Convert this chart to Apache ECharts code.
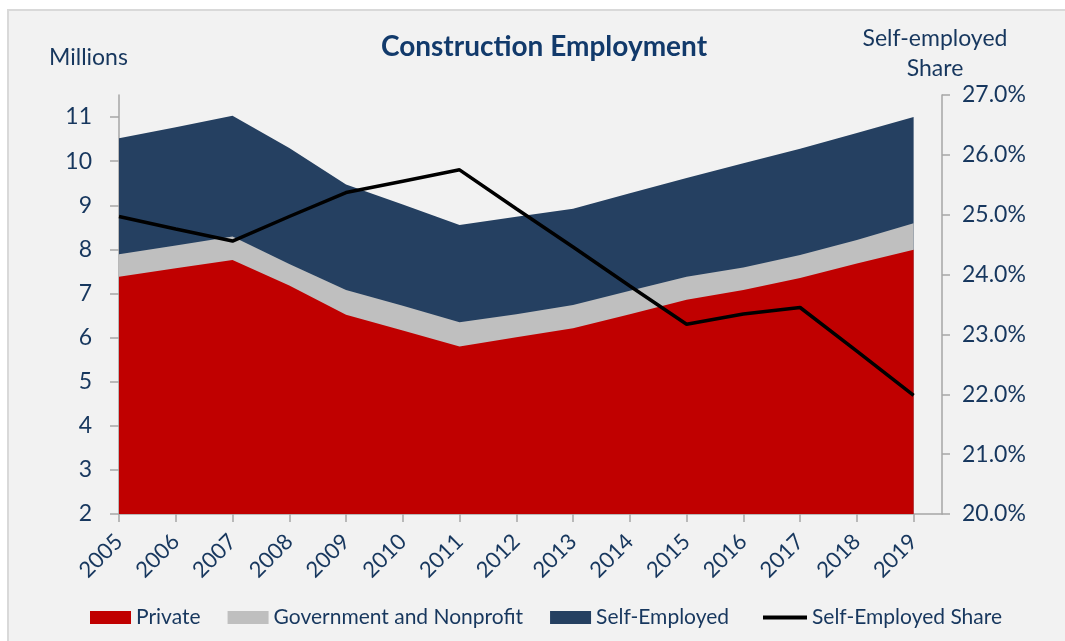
<!DOCTYPE html>
<html>
<head>
<meta charset="utf-8">
<script src="https://cdn.jsdelivr.net/npm/echarts@6/dist/echarts.min.js"></script>
<style>
html,body{margin:0;padding:0;background:#fff;}
#c{width:1065px;height:641px;}
</style>
</head>
<body>
<div id="c"></div>
<script>
const years = [2005,2006,2007,2008,2009,2010,2011,2012,2013,2014,2015,2016,2017,2018,2019];
const privateEmp = [7.38,7.57,7.76,7.18,6.52,6.16,5.80,6.01,6.21,6.53,6.86,7.08,7.35,7.68,7.99];
const govNonprofit = [0.51,0.52,0.53,0.49,0.56,0.56,0.55,0.52,0.53,0.53,0.52,0.51,0.52,0.53,0.60];
const selfEmployed = [2.63,2.68,2.74,2.63,2.39,2.30,2.20,2.21,2.18,2.21,2.24,2.36,2.41,2.43,2.41];
const selfShare = [24.97,24.76,24.56,24.97,25.37,25.56,25.75,25.10,24.46,23.81,23.17,23.34,23.45,22.72,21.98];
const leftTicks = [2,3,4,5,6,7,8,9,10,11];

const FONT = 'Lato';
const NAVY = '#17375e';
// cumulative stack tops (stacking done here because the x axis is a value axis)
const govTop = privateEmp.map((v,i)=>v+govNonprofit[i]);
const seTop = govTop.map((v,i)=>v+selfEmployed[i]);
const pairs = arr => years.map((y,i)=>[y,arr[i]]);

const chart = echarts.init(document.getElementById('c'), null, {renderer:'canvas'});
chart.setOption({
  backgroundColor:'#ffffff',
  animation:false,
  textStyle:{fontFamily:FONT,color:NAVY},
  graphic:[
    {type:'rect',z:-10,shape:{x:8,y:10,width:1070,height:640},style:{fill:'#f2f2f2',stroke:'#d9d9d9',lineWidth:2}},
    {type:'text',z:10,style:{text:'Construction Employment',x:544,y:47,align:'center',verticalAlign:'middle',font:'bold 28px '+FONT,fill:'#123a6b'}},
    {type:'text',z:10,style:{text:'Millions',x:49,y:58,verticalAlign:'middle',font:'23px '+FONT,fill:NAVY}},
    {type:'text',z:10,style:{text:'Self-employed',x:935,y:39,align:'center',verticalAlign:'middle',font:'23px '+FONT,fill:NAVY}},
    {type:'text',z:10,style:{text:'Share',x:935,y:69,align:'center',verticalAlign:'middle',font:'23px '+FONT,fill:NAVY}}
  ],
  grid:{left:119,right:123,top:95,bottom:127},
  legend:[
    {
      left:85,top:602,itemWidth:41,itemHeight:13,itemGap:27,
      textStyle:{fontFamily:FONT,fontSize:21,color:NAVY},
      data:[
        {name:'Private',icon:'rect'},
        {name:'Government and Nonprofit',icon:'rect'},
        {name:'Self-Employed',icon:'rect'}
      ]
    },
    {
      left:758,top:602,itemWidth:44,itemHeight:4,
      textStyle:{fontFamily:FONT,fontSize:21,color:NAVY},
      data:[{name:'Self-Employed Share',icon:'rect'}]
    }
  ],
  xAxis:{
    type:'value',min:2005,max:2019.5,
    axisLine:{show:true,lineStyle:{color:'#a6a6a6',width:1.5}},
    axisTick:{show:true,length:8,inside:false,customValues:years,lineStyle:{color:'#a6a6a6',width:1.5}},
    axisLabel:{customValues:years,rotate:45,fontSize:22,color:NAVY,fontFamily:FONT,margin:24,formatter:v=>String(v)},
    splitLine:{show:false}
  },
  yAxis:[
    {
      type:'value',min:2,max:11.5,position:'left',
      axisLine:{show:true,lineStyle:{color:'#a6a6a6',width:1.5}},
      axisTick:{show:true,length:9,customValues:leftTicks,lineStyle:{color:'#a6a6a6',width:1.5}},
      axisLabel:{customValues:leftTicks,fontSize:23,color:NAVY,fontFamily:FONT,margin:27},
      splitLine:{show:false}
    },
    {
      type:'value',min:20,max:27,interval:1,position:'right',
      axisLine:{show:true,lineStyle:{color:'#a6a6a6',width:1.5}},
      axisTick:{show:true,length:8,lineStyle:{color:'#a6a6a6',width:1.5}},
      axisLabel:{fontSize:23,color:NAVY,fontFamily:FONT,margin:20,formatter:v=>v.toFixed(1)+'%'},
      splitLine:{show:false}
    }
  ],
  series:[
    {name:'Self-Employed',type:'line',data:pairs(seTop),symbol:'none',z:1,lineStyle:{width:0},areaStyle:{color:'#254061',opacity:1},itemStyle:{color:'#254061'}},
    {name:'Government and Nonprofit',type:'line',data:pairs(govTop),symbol:'none',z:2,lineStyle:{width:0},areaStyle:{color:'#bfbfbf',opacity:1},itemStyle:{color:'#bfbfbf'}},
    {name:'Private',type:'line',data:pairs(privateEmp),symbol:'none',z:3,lineStyle:{width:0},areaStyle:{color:'#c00000',opacity:1},itemStyle:{color:'#c00000'}},
    {name:'Self-Employed Share',type:'line',yAxisIndex:1,data:pairs(selfShare),symbol:'none',z:5,lineStyle:{width:3.5,color:'#000'},itemStyle:{color:'#000'}}
  ]
});
</script>
</body>
</html>
